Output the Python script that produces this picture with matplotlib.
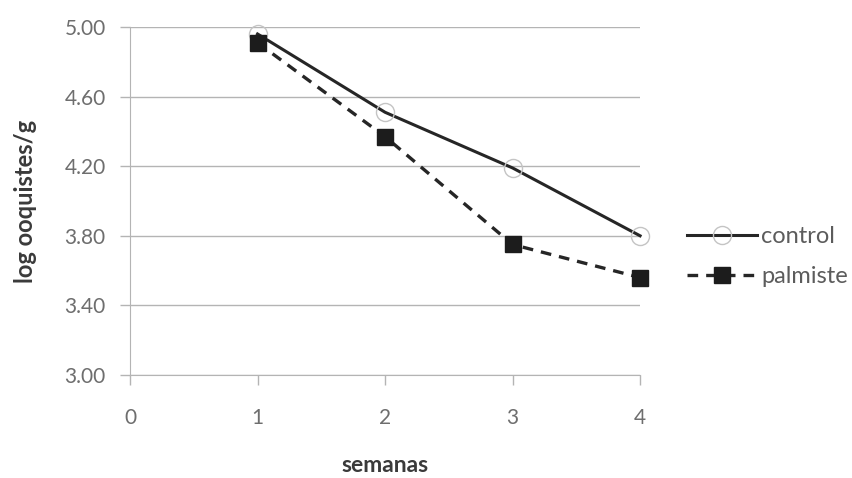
import matplotlib
matplotlib.use('Agg')
import matplotlib.pyplot as plt

weeks = [1, 2, 3, 4]
control = [4.96, 4.51, 4.19, 3.80]
palmiste = [4.91, 4.37, 3.75, 3.56]
y_ticks = [3.00, 3.40, 3.80, 4.20, 4.60, 5.00]
x_ticks = [0, 1, 2, 3, 4]

plt.rcParams['font.family'] = ['Lato', 'DejaVu Sans']

fig = plt.figure(figsize=(8.53, 4.78), dpi=100)
ax = fig.add_axes([0.1524, 0.2155, 0.598, 0.728])

grid_col = '#b4b4b4'
ax.set_yticks(y_ticks)
ax.set_yticklabels([f'{v:.2f}' for v in y_ticks])
ax.set_xticks(x_ticks)
ax.set_ylim(3.0, 5.0)
ax.set_xlim(0, 4)
ax.grid(axis='y', color=grid_col, linewidth=1.0)
ax.set_axisbelow(True)

ax.plot(weeks, control, color='#262626', linewidth=2.2, marker='o', markersize=13,
        markerfacecolor='none', markeredgecolor='#c4c4c4', markeredgewidth=1.0,
        label='control', clip_on=False, zorder=3)
ax.plot(weeks, palmiste, color='#262626', linewidth=2.4, linestyle=(0, (3.2, 2.4)),
        marker='s', markersize=12, markerfacecolor='#1c1c1c', markeredgecolor='#1c1c1c',
        label='palmiste', clip_on=False, zorder=4)

for side in ['top', 'right']:
    ax.spines[side].set_visible(False)
for side in ['left', 'bottom']:
    ax.spines[side].set_color(grid_col)
ax.tick_params(axis='both', colors=grid_col, length=7, width=1.0, labelcolor='#6e6e6e',
               labelsize=15)
ax.tick_params(axis='x', pad=17)
ax.tick_params(axis='y', pad=10.5)

ax.set_xlabel('semanas', fontsize=16.5, fontweight='bold', color='#3a3a3a', va='center')
ax.xaxis.set_label_coords(0.5, -0.259)
ax.set_ylabel('log ooquistes/g', fontsize=17, fontweight='bold', color='#3a3a3a', va='center')
ax.yaxis.set_label_coords(-0.204, 0.5)

fig.legend(loc='center left', bbox_to_anchor=(0.805, 0.463), frameon=False,
           fontsize=17, handlelength=3.0, labelcolor='#5c5c5c', handletextpad=0.15,
           labelspacing=0.8, borderpad=0, borderaxespad=0)

plt.savefig('out.png', dpi=100, facecolor='white')
